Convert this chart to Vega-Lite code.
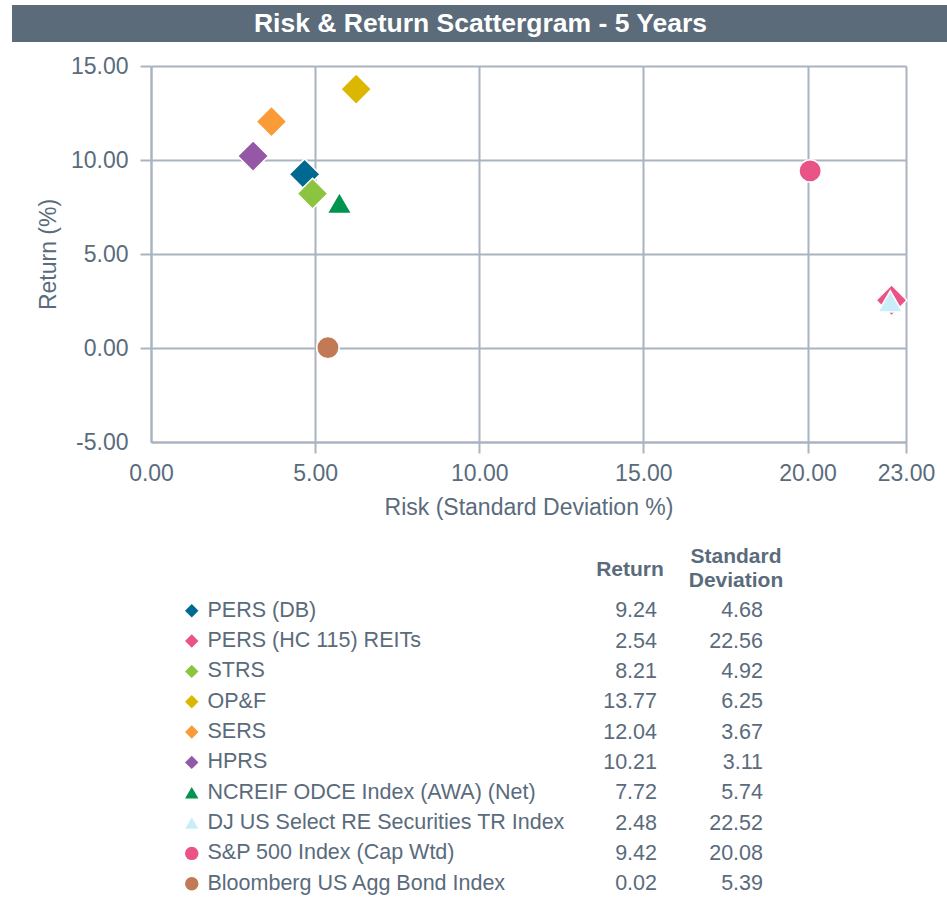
{
 "$schema": "https://vega.github.io/schema/vega-lite/v6.json",
 "background": "white",
 "padding": {"left": 12, "top": 5, "right": 0, "bottom": 0},
 "spacing": 13,
 "config": {"font": "Liberation Sans", "view": {"stroke": null}},
 "datasets": {
  "funds": [
   {"name": "PERS (DB)", "ret": 9.24, "sd": 4.68},
   {"name": "PERS (HC 115) REITs", "ret": 2.54, "sd": 22.56},
   {"name": "STRS", "ret": 8.21, "sd": 4.92},
   {"name": "OP&F", "ret": 13.77, "sd": 6.25},
   {"name": "SERS", "ret": 12.04, "sd": 3.67},
   {"name": "HPRS", "ret": 10.21, "sd": 3.11},
   {"name": "NCREIF ODCE Index (AWA) (Net)", "ret": 7.72, "sd": 5.74},
   {"name": "DJ US Select RE Securities TR Index", "ret": 2.48, "sd": 22.52},
   {"name": "S&P 500 Index (Cap Wtd)", "ret": 9.42, "sd": 20.08},
   {"name": "Bloomberg US Agg Bond Index", "ret": 0.02, "sd": 5.39}
  ],
  "titleRow": [{"t": "Risk & Return Scattergram - 5 Years"}],
  "header": [{"key": "ret", "label": "Return"}, {"key": "sd", "label": "Standard\nDeviation"}]
 },
 "vconcat": [
  {
   "width": 937,
   "height": 37,
   "view": {"fill": "#5b6b7a", "stroke": null},
   "data": {"name": "titleRow"},
   "mark": {"type": "text", "color": "#ffffff", "fontSize": 26.5, "fontWeight": "bold", "align": "center", "baseline": "middle"},
   "encoding": {"text": {"field": "t", "type": "nominal"}}
  },
  {
   "spacing": 0,
   "hconcat": [
    {
     "width": 1,
     "height": 1,
     "data": {"values": []},
     "mark": {"type": "point", "opacity": 0}
    },
    {
     "width": 755,
     "height": 376,
     "data": {"name": "funds"},
     "encoding": {
      "x": {
       "field": "sd", "type": "quantitative", "title": "Risk (Standard Deviation %)",
       "scale": {"domain": [0, 23], "nice": false, "zero": false},
       "axis": {"values": [0, 5, 10, 15, 20, 23], "format": ".2f", "labelFontSize": 23, "labelColor": "#5a6b7c", "labelPadding": 9, "labelFlush": false, "labelOverlap": false,
        "tickSize": 11, "tickWidth": 2, "tickColor": "#a9b4c0", "tickOpacity": {"condition": {"test": "datum.value === 0", "value": 0}, "value": 1},
        "domainColor": "#a9b4c0", "domainWidth": 2, "gridColor": "#a9b4c0", "gridWidth": 2,
        "titleFontSize": 23, "titleFontWeight": "normal", "titleColor": "#5a6b7c", "titlePadding": 11}
      },
      "y": {
       "field": "ret", "type": "quantitative", "title": "Return (%)",
       "scale": {"domain": [-5, 15], "nice": false, "zero": false},
       "axis": {"values": [-5, 0, 5, 10, 15], "format": ".2f", "labelExpr": "replace(datum.label, '\u2212', '-')", "labelFontSize": 23, "labelColor": "#5a6b7c", "labelPadding": 12, "labelOverlap": false,
        "tickSize": 11, "tickWidth": 2, "tickColor": "#a9b4c0", "tickOpacity": {"condition": {"test": "datum.value === -5", "value": 0}, "value": 1},
        "domainColor": "#a9b4c0", "domainWidth": 2, "gridColor": "#a9b4c0", "gridWidth": 2,
        "titleFontSize": 23, "titleFontWeight": "normal", "titleColor": "#5a6b7c", "minExtent": 138, "titleX": -91, "titleY": 188}
      },
      "color": {
       "field": "name", "type": "nominal",
       "scale": {
        "domain": ["PERS (DB)", "PERS (HC 115) REITs", "STRS", "OP&F", "SERS", "HPRS", "NCREIF ODCE Index (AWA) (Net)", "DJ US Select RE Securities TR Index", "S&P 500 Index (Cap Wtd)", "Bloomberg US Agg Bond Index"],
        "range": ["#006991", "#eb5384", "#8dc43f", "#dcb700", "#f99b36", "#9558a6", "#00944f", "#c9eefa", "#ea5385", "#c27a55"]
       },
       "legend": {"title": null, "orient": "none", "legendX": 169, "legendY": 595, "labelFontSize": 21.5, "labelColor": "#5a6b7c", "labelFont": "Liberation Sans", "symbolSize": 180, "symbolStrokeWidth": 0, "rowPadding": 7.33, "labelOffset": 5, "padding": 0, "labelLimit": 0, "symbolOpacity": 1}
      },
      "shape": {
       "field": "name", "type": "nominal",
       "scale": {
        "domain": ["PERS (DB)", "PERS (HC 115) REITs", "STRS", "OP&F", "SERS", "HPRS", "NCREIF ODCE Index (AWA) (Net)", "DJ US Select RE Securities TR Index", "S&P 500 Index (Cap Wtd)", "Bloomberg US Agg Bond Index"],
        "range": ["diamond", "diamond", "diamond", "diamond", "diamond", "diamond", "triangle-up", "triangle-up", "circle", "circle"]
       },
       "legend": {"title": null, "orient": "none", "legendX": 169, "legendY": 595, "labelFontSize": 21.5, "labelColor": "#5a6b7c", "labelFont": "Liberation Sans", "symbolSize": 180, "symbolStrokeWidth": 0, "rowPadding": 7.33, "labelOffset": 5, "padding": 0, "labelLimit": 0, "symbolOpacity": 1}
      }
     },
     "layer": [
      {
       "transform": [{"filter": {"field": "name", "oneOf": ["PERS (DB)", "PERS (HC 115) REITs", "STRS", "OP&F", "SERS", "HPRS"]}}],
       "mark": {"type": "point", "filled": true, "opacity": 1, "size": 950, "stroke": "white", "strokeWidth": 1.5}
      },
      {
       "transform": [{"filter": {"field": "name", "oneOf": ["NCREIF ODCE Index (AWA) (Net)", "DJ US Select RE Securities TR Index"]}}],
       "mark": {"type": "point", "filled": true, "opacity": 1, "size": 600, "stroke": "white", "strokeWidth": 1.5}
      },
      {
       "transform": [{"filter": {"field": "name", "oneOf": ["S&P 500 Index (Cap Wtd)", "Bloomberg US Agg Bond Index"]}}],
       "mark": {"type": "point", "filled": true, "opacity": 1, "size": 500, "stroke": "white", "strokeWidth": 1.5}
      }
     ]
    }
   ]
  },
  {
   "width": 780,
   "height": 364,
   "layer": [
    {
     "data": {"name": "funds"},
     "transform": [{"fold": ["ret", "sd"], "as": ["key", "value"]}],
     "mark": {"type": "text", "align": "right", "baseline": "middle", "fontSize": 21.5, "color": "#5a6b7c"},
     "encoding": {
      "x": {"field": "key", "type": "nominal", "scale": {"type": "point", "domain": ["ret", "sd"], "range": [645, 751], "padding": 0}, "axis": null},
      "y": {"field": "name", "type": "nominal", "axis": null,
       "scale": {"type": "point", "domain": ["HEADER", "PERS (DB)", "PERS (HC 115) REITs", "STRS", "OP&F", "SERS", "HPRS", "NCREIF ODCE Index (AWA) (Net)", "DJ US Select RE Securities TR Index", "S&P 500 Index (Cap Wtd)", "Bloomberg US Agg Bond Index"], "padding": 1, "align": 0.808}},
      "text": {"field": "value", "type": "quantitative", "format": ".2f"}
     }
    },
    {
     "data": {"name": "header"},
     "transform": [{"filter": "datum.key === 'ret'"}],
     "mark": {"type": "text", "align": "center", "baseline": "middle", "fontSize": 21, "fontWeight": "bold", "dx": -27, "dy": -11.5, "color": "#5a6b7c"},
     "encoding": {
      "x": {"field": "key", "type": "nominal", "axis": null},
      "y": {"datum": "HEADER", "type": "nominal", "axis": null},
      "text": {"field": "label", "type": "nominal"}
     }
    },
    {
     "data": {"name": "header"},
     "transform": [{"filter": "datum.key === 'sd'"}],
     "mark": {"type": "text", "align": "center", "baseline": "middle", "fontSize": 21, "fontWeight": "bold", "lineBreak": "\n", "lineHeight": 24, "dx": -27, "dy": -24.5, "color": "#5a6b7c"},
     "encoding": {
      "x": {"field": "key", "type": "nominal", "axis": null},
      "y": {"datum": "HEADER", "type": "nominal", "axis": null},
      "text": {"field": "label", "type": "nominal"}
     }
    }
   ]
  }
 ]
}
